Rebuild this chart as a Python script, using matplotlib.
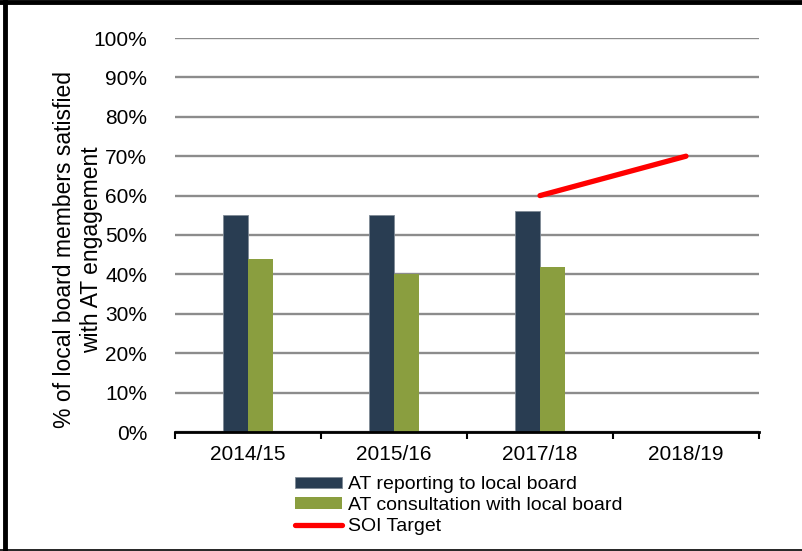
import matplotlib
matplotlib.use("Agg")
import matplotlib.pyplot as plt
from matplotlib.lines import Line2D
import numpy as np

plt.rcParams['font.family'] = ['Liberation Sans', 'DejaVu Sans']

categories = ["2014/15", "2015/16", "2017/18", "2018/19"]
reporting = [55, 55, 56, None]
consultation = [44, 40, 42, None]
soi_cats = ["2017/18", "2018/19"]
soi_target = [60, 70]
yticks = [0, 10, 20, 30, 40, 50, 60, 70, 80, 90, 100]

W, H = 803, 551
fig = plt.figure(figsize=(W / 100, H / 100), dpi=100)
ax = fig.add_axes([175 / W, (H - 432) / H, (759 - 175) / W, (432 - 38) / H])

x = np.arange(len(categories))
bw = 0.17
rep_x = [xi for xi, v in zip(x, reporting) if v is not None]
rep_v = [v for v in reporting if v is not None]
con_x = [xi for xi, v in zip(x, consultation) if v is not None]
con_v = [v for v in consultation if v is not None]

h1 = ax.bar(np.array(rep_x) - bw / 2, rep_v, width=bw, color="#293d52",
            edgecolor="#7f8a96", linewidth=0.6, label="AT reporting to local board", zorder=3)
h2 = ax.bar(np.array(con_x) + bw / 2, con_v, width=bw, color="#8a9e3f",
            label="AT consultation with local board", zorder=3)
soi_x = [categories.index(c) for c in soi_cats]
h3, = ax.plot(soi_x, soi_target, color="#ff0000", linewidth=3.8, solid_capstyle="round",
              label="SOI Target", zorder=4)

ax.set_xlim(-0.5, len(categories) - 0.5)
ax.set_ylim(0, 100)
ax.set_yticks(yticks)
ax.set_yticklabels([f"{t}%" for t in yticks], fontsize=15)
ax.set_xticks(x)
ax.set_xticklabels(categories, fontsize=15)
ax.set_xticks(np.arange(-0.5, len(categories), 1), minor=True)
ax.tick_params(axis="x", which="major", length=0, pad=9)
ax.tick_params(axis="x", which="minor", length=5, width=1.5, direction="out", color="black")
ax.tick_params(axis="y", length=0, pad=20)

ax.grid(axis="y", color="#8c8c8c", linewidth=1.7, zorder=0)
ax.set_axisbelow(True)
for s in ["top", "right", "left"]:
    ax.spines[s].set_visible(False)
ax.spines["bottom"].set_linewidth(2)
ax.spines["bottom"].set_zorder(5)

ax.set_ylabel("% of local board members satisfied\nwith AT engagement", fontsize=16.5,
              linespacing=1.2)
ax.yaxis.set_label_coords((103 - 175) / 584, (432 - 250) / 394)

leg = fig.legend(handles=[h1, h2, h3], loc="upper left", bbox_to_anchor=(295 / W, (H - 476) / H),
                 frameon=False, fontsize=14, handlelength=2.4, handleheight=0.5,
                 labelspacing=0.2, handletextpad=0.3, borderaxespad=0, borderpad=0)

# figure border
fig.add_artist(Line2D([0, 1], [1 - 2 / H, 1 - 2 / H], color="black", linewidth=3.5, transform=fig.transFigure))
fig.add_artist(Line2D([5 / W, 5 / W], [0, 1], color="black", linewidth=3.5, transform=fig.transFigure))
fig.add_artist(Line2D([0, 1], [1.5 / H, 1.5 / H], color="black", linewidth=1.2, transform=fig.transFigure))

fig.savefig("out.png", dpi=100)
